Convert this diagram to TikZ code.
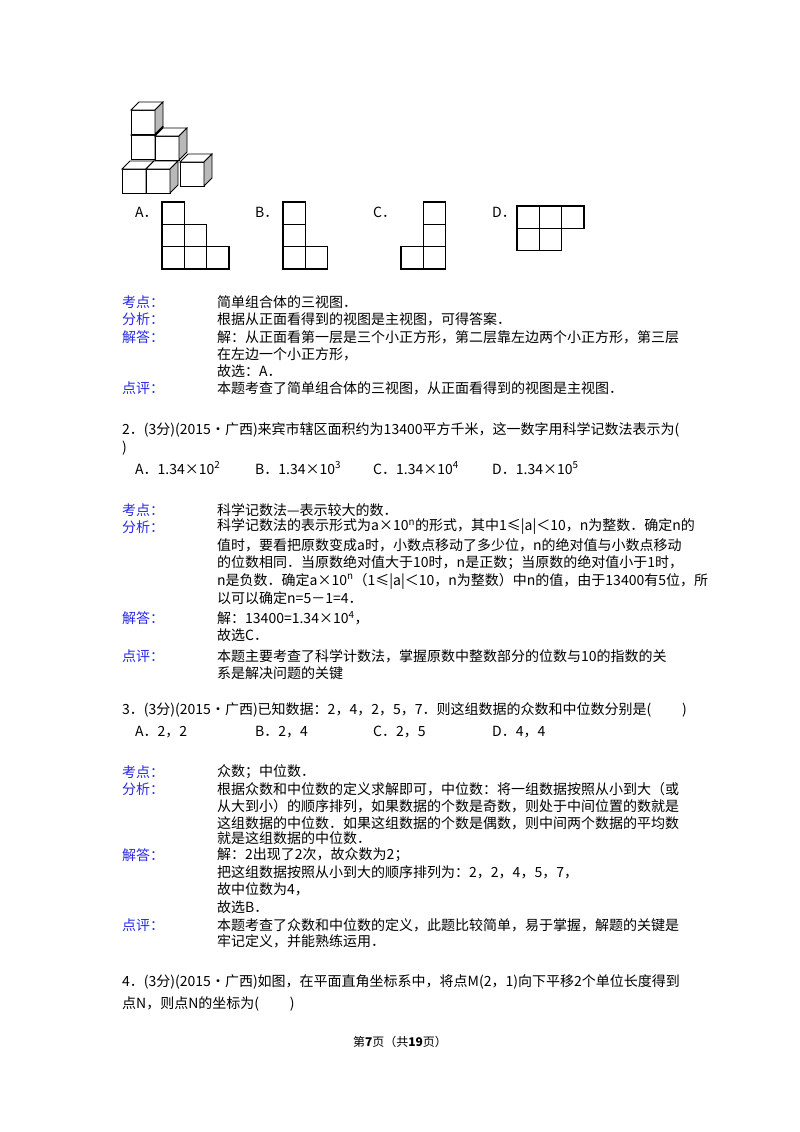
\documentclass[tikz,border=0pt]{standalone}
\usepackage{fontspec}
\setmainfont{Noto Sans CJK SC}
\definecolor{lab}{RGB}{40,40,230}
\newcommand\mycube[2]{%
 \filldraw[fill=white,cube] (#1,#2) rectangle ++(24,24);
 \filldraw[fill=white,cube] (#1,#2) -- ++(8,-8) -- ++(24,0) -- ++(-8,8) -- cycle;
 \filldraw[fill=gray!55,cube] (#1+24,#2) -- ++(8,-8) -- ++(0,24) -- ++(-8,8) -- cycle;}
\newcommand\sq[2]{\draw[grid] (#1,#2) rectangle ++(22.3,22.3);}
\begin{document}
\begin{tikzpicture}[x=1pt,y=-1pt,
 cube/.style={draw=black,line width=0.9pt},
 grid/.style={draw=black,line width=1.2pt},
 tx/.style={anchor=west,inner sep=0pt,font=\fontsize{14}{16}\selectfont},
 lb/.style={tx,text=lab}]
\useasboundingbox (0,0) rectangle (800,1132);
% cube figure
\mycube{131}{135}
\mycube{131}{110}
\mycube{155}{136}
\mycube{180}{162}
\mycube{122}{169}
\mycube{146}{169}
% options
\node[tx] (oA) at (135,212) {A．};
\sq{162}{202}\sq{162}{224.3}\sq{184.3}{224.3}\sq{162}{246.6}\sq{184.3}{246.6}\sq{206.6}{246.6}
\node[tx] (oB) at (255,212) {B．};
\sq{283}{202}\sq{283}{224.3}\sq{283}{246.6}\sq{305.3}{246.6}
\node[tx] (oC) at (373,212) {C．};
\sq{423.3}{202}\sq{423.3}{224.3}\sq{423.3}{246.6}\sq{401}{246.6}
\node[tx] (oD) at (492,212) {D．};
\sq{517}{206}\sq{539.3}{206}\sq{561.6}{206}\sq{517}{228.3}\sq{539.3}{228.3}
% Q1 solution
\node[lb] (k1) at (122,302) {考点：};
\node[tx] (k1t) at (217,302) {简单组合体的三视图．};
\node[lb] (f1) at (122,319) {分析：};
\node[tx] (f1t) at (217,319) {根据从正面看得到的视图是主视图，可得答案．};
\node[lb] (j1) at (122,337) {解答：};
\node[tx] (j1a) at (217,337) {解：从正面看第一层是三个小正方形，第二层靠左边两个小正方形，第三层};
\node[tx] (j1b) at (217,354) {在左边一个小正方形，};
\node[tx] (j1c) at (217,371) {故选：A．};
\node[lb] (d1) at (122,388) {点评：};
\node[tx] (d1t) at (217,388) {本题考查了简单组合体的三视图，从正面看得到的视图是主视图．};
% Q2
\node[tx] (q2a) at (122,430) {2．(3分)(2015•广西)来宾市辖区面积约为13400平方千米，这一数字用科学记数法表示为(};
\node[tx] (q2b) at (122,448) {)};
\node[tx] (q2A) at (135,468) {A．1.34×10\textsuperscript{2}};
\node[tx] (q2B) at (255,468) {B．1.34×10\textsuperscript{3}};
\node[tx] (q2C) at (373,468) {C．1.34×10\textsuperscript{4}};
\node[tx] (q2D) at (492,468) {D．1.34×10\textsuperscript{5}};
\node[lb] (k2) at (122,510) {考点：};
\node[tx] (k2t) at (217,510) {科学记数法—表示较大的数．};
\node[lb] (f2) at (122,527) {分析：};
\node[tx] (f2a) at (217,527) {科学记数法的表示形式为a×10\textsuperscript{n}的形式，其中1≤|a|＜10，n为整数．确定n的};
\node[tx] (f2b) at (217,545) {值时，要看把原数变成a时，小数点移动了多少位，n的绝对值与小数点移动};
\node[tx] (f2c) at (217,563) {的位数相同．当原数绝对值大于10时，n是正数；当原数的绝对值小于1时，};
\node[tx] (f2d) at (217,581) {n是负数．确定a×10\textsuperscript{n}（1≤|a|＜10，n为整数）中n的值，由于13400有5位，所};
\node[tx] (f2e) at (217,598) {以可以确定n=5－1=4．};
\node[lb] (j2) at (122,618) {解答：};
\node[tx] (j2a) at (217,618) {解：13400=1.34×10\textsuperscript{4}，};
\node[tx] (j2b) at (217,635) {故选C．};
\node[lb] (d2) at (122,656) {点评：};
\node[tx] (d2a) at (217,656) {本题主要考查了科学计数法，掌握原数中整数部分的位数与10的指数的关};
\node[tx] (d2b) at (217,673) {系是解决问题的关键};
% Q3
\node[tx] (q3) at (122,710) {3．(3分)(2015•广西)已知数据：2，4，2，5，7．则这组数据的众数和中位数分别是(\hspace{2.2em})};
\node[tx] (q3A) at (135,732) {A．2，2};
\node[tx] (q3B) at (255,732) {B．2，4};
\node[tx] (q3C) at (373,732) {C．2，5};
\node[tx] (q3D) at (492,732) {D．4，4};
\node[lb] (k3) at (122,772) {考点：};
\node[tx] (k3t) at (217,772) {众数；中位数．};
\node[lb] (f3) at (122,789) {分析：};
\node[tx] (f3a) at (217,789) {根据众数和中位数的定义求解即可，中位数：将一组数据按照从小到大（或};
\node[tx] (f3b) at (217,806) {从大到小）的顺序排列，如果数据的个数是奇数，则处于中间位置的数就是};
\node[tx] (f3c) at (217,823) {这组数据的中位数．如果这组数据的个数是偶数，则中间两个数据的平均数};
\node[tx] (f3d) at (217,838) {就是这组数据的中位数．};
\node[lb] (j3) at (122,855) {解答：};
\node[tx] (j3a) at (217,855) {解：2出现了2次，故众数为2；};
\node[tx] (j3b) at (217,872) {把这组数据按照从小到大的顺序排列为：2，2，4，5，7，};
\node[tx] (j3c) at (217,889) {故中位数为4，};
\node[tx] (j3d) at (217,907) {故选B．};
\node[lb] (d3) at (122,925) {点评：};
\node[tx] (d3a) at (217,925) {本题考查了众数和中位数的定义，此题比较简单，易于掌握，解题的关键是};
\node[tx] (d3b) at (217,941) {牢记定义，并能熟练运用．};
% Q4
\node[tx] (q4a) at (122,982) {4．(3分)(2015•广西)如图，在平面直角坐标系中，将点M(2，1)向下平移2个单位长度得到};
\node[tx] (q4b) at (122,1004) {点N，则点N的坐标为(\hspace{2.2em})};
\node[font=\fontsize{12}{14}\selectfont] (ft) at (400,1042) {第\textbf{7}页（共\textbf{19}页）};
\end{tikzpicture}
\end{document}
